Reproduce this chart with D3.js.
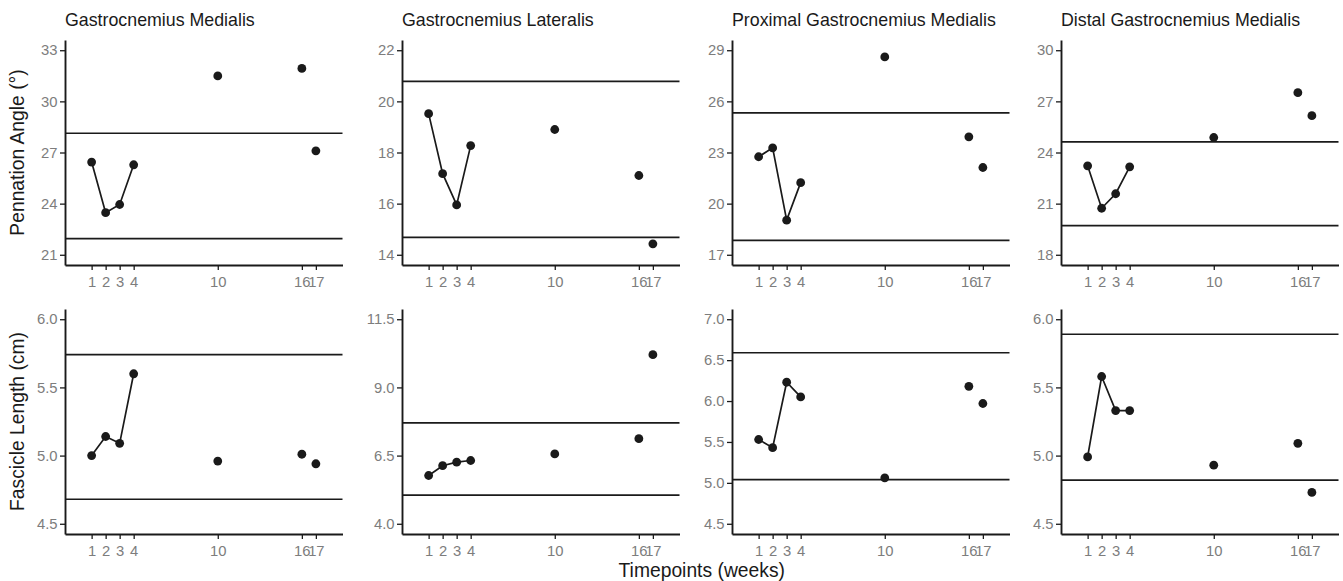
<!DOCTYPE html>
<html>
<head>
<meta charset="utf-8">
<script src="https://cdn.jsdelivr.net/npm/d3@7"></script>
<style>
  body { margin: 0; background: #fff; }
  text { font-family: "Liberation Sans", Arial, sans-serif; }
</style>
</head>
<body>
<svg id="chart" width="1343" height="581"></svg>
<script>
const svg = d3.select('#chart');

// data
const muscles = ["Gastrocnemius Medialis", "Gastrocnemius Lateralis",
                 "Proximal Gastrocnemius Medialis", "Distal Gastrocnemius Medialis"];
const weeks = [1, 2, 3, 4, 10, 16, 17];
const xTicks = [1, 2, 3, 4, 10, 16, 17];

// pennation angle (deg), one array per muscle
const paGM  = [26.44, 23.47, 23.95, 26.28, 31.49, 31.93, 27.10];
const paGL  = [19.52, 17.17, 15.95, 18.27, 18.90, 17.10, 14.43];
const paPGM = [22.75, 23.27, 19.03, 21.23, 28.61, 23.92, 22.12];
const paDGM = [23.22, 20.73, 21.58, 23.16, 24.88, 27.51, 26.16];

// fascicle length (cm)
const flGM  = [5.00, 5.14, 5.09, 5.60, 4.96, 5.01, 4.94];
const flGL  = [5.77, 6.13, 6.26, 6.32, 6.56, 7.12, 10.20];
const flPGM = [5.53, 5.43, 6.23, 6.05, 5.06, 6.18, 5.97];
const flDGM = [4.99, 5.58, 5.33, 5.33, 4.93, 5.09, 4.73];

// horizontal reference lines [lower, upper]
const paBands = [[21.95, 28.13], [14.68, 20.78], [17.84, 25.32], [19.71, 24.62]];
const flBands = [[4.68, 5.74], [5.05, 7.70], [5.04, 6.59], [4.82, 5.89]];

// y tick labels
const paTicks = [[21, 24, 27, 30, 33], [14, 16, 18, 20, 22], [17, 20, 23, 26, 29], [18, 21, 24, 27, 30]];
const flTicks = [[4.5, 5.0, 5.5, 6.0], [4.0, 6.5, 9.0, 11.5], [4.5, 5.0, 5.5, 6.0, 6.5, 7.0], [4.5, 5.0, 5.5, 6.0]];

const rows = [
  {values: [paGM, paGL, paPGM, paDGM], bands: paBands, ticks: paTicks, fmt: d3.format('d'), title: 'Pennation Angle (°)'},
  {values: [flGM, flGL, flPGM, flDGM], bands: flBands, ticks: flTicks, fmt: d3.format('.1f'), title: 'Fascicle Length (cm)'}
];

// layout
const panelLeft = [65, 402, 732, 1061];
const panelTop = [40, 309];
const panelW = 277.5;
const panelH = 225;
const ink = '#1a1a1a';
const tickGrey = '#7d7d7d';

// ggplot-ish 5% expansion
const expand = ([a, b]) => [a - (b - a) * 0.05, b + (b - a) * 0.05];

rows.forEach((row, r) => {
  row.values.forEach((vals, c) => {
    const g = svg.append('g')
      .attr('transform', `translate(${panelLeft[c]},${panelTop[r]})`);

    const x = d3.scaleLinear().domain(expand([0, 18])).range([0, panelW]);
    const tk = row.ticks[c];
    const y = d3.scaleLinear().domain(expand([tk[0], tk[tk.length - 1]])).range([panelH, 0]);

    // reference lines
    g.selectAll('line.band')
      .data(row.bands[c])
      .enter()
      .append('line')
      .attr('class', 'band')
      .attr('x1', 0).attr('x2', panelW)
      .attr('y1', d => y(d)).attr('y2', d => y(d))
      .attr('stroke', ink)
      .attr('stroke-width', 1.7);

    const pts = weeks.map((w, i) => ({w: w, v: vals[i]}));

    // weeks 1-4 are joined
    g.append('path')
      .datum(pts.filter(d => d.w <= 4))
      .attr('fill', 'none')
      .attr('stroke', ink)
      .attr('stroke-width', 1.7)
      .attr('d', d3.line().x(d => x(d.w)).y(d => y(d.v)));

    g.selectAll('circle')
      .data(pts)
      .enter()
      .append('circle')
      .attr('cx', d => x(d.w))
      .attr('cy', d => y(d.v))
      .attr('r', 4.4)
      .attr('fill', ink);

    const yAxis = g.append('g')
      .call(d3.axisLeft(y).tickValues(tk).tickFormat(row.fmt).tickSize(5).tickSizeOuter(0).tickPadding(2.5));
    const xAxis = g.append('g')
      .attr('transform', `translate(0,${panelH})`)
      .call(d3.axisBottom(x).tickValues(xTicks).tickSize(5).tickSizeOuter(0).tickPadding(6));

    [yAxis, xAxis].forEach(a => {
      a.select('.domain').attr('stroke', ink).attr('stroke-width', 1.9);
      a.selectAll('.tick line').attr('stroke', ink).attr('stroke-width', 1.3);
      a.selectAll('.tick text')
        .attr('fill', tickGrey)
        .style('font-size', '14.8px');
    });

    // strip titles only on the top row
    if (r === 0) {
      svg.append('text')
        .attr('x', panelLeft[c])
        .attr('y', 26)
        .attr('fill', ink)
        .style('font-size', '17.8px')
        .text(muscles[c]);
    }
  });

  // y axis title
  svg.append('text')
    .attr('transform', `translate(24,${panelTop[r] + panelH / 2}) rotate(-90)`)
    .attr('text-anchor', 'middle')
    .attr('fill', ink)
    .style('font-size', '19.3px')
    .text(row.title);
});

// x axis title
svg.append('text')
  .attr('x', (panelLeft[0] + panelLeft[3] + panelW) / 2)
  .attr('y', 577)
  .attr('text-anchor', 'middle')
  .attr('fill', ink)
  .style('font-size', '19.3px')
  .text('Timepoints (weeks)');
</script>
</body>
</html>
